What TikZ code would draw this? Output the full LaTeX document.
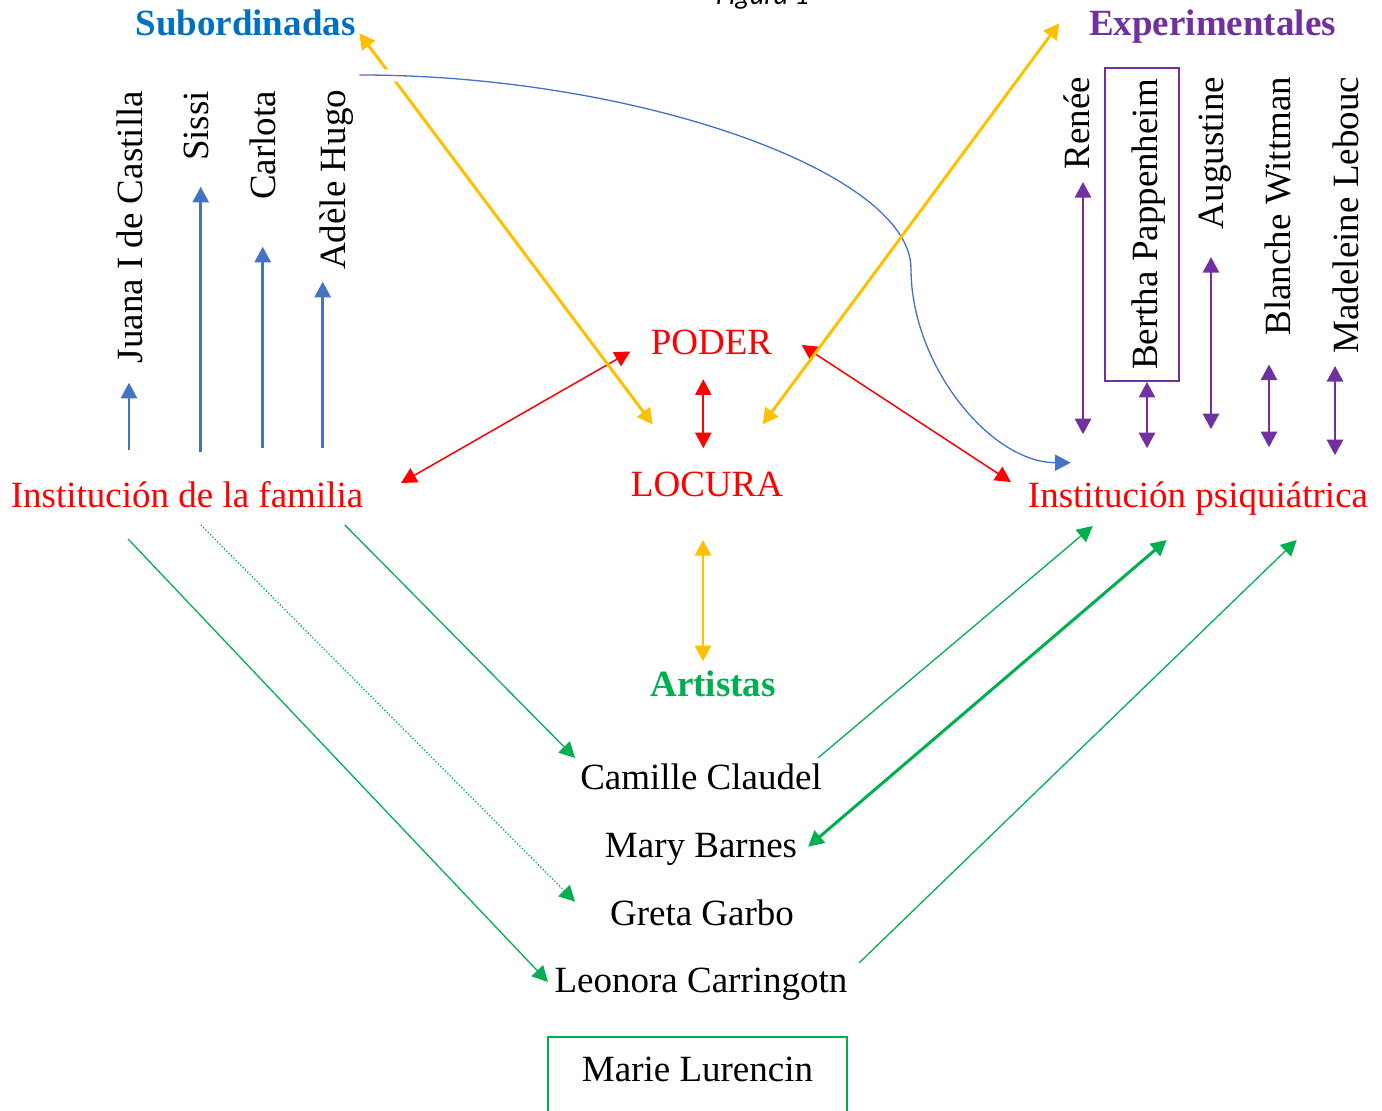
\documentclass[tikz,border=0pt]{standalone}
\usepackage{fontspec}
\setmainfont{Liberation Serif}
\newfontfamily\figfont{Carlito}
\usetikzlibrary{arrows.meta,calc}

\definecolor{azulF}{HTML}{4472C4}
\definecolor{azulT}{HTML}{0070C0}
\definecolor{morado}{HTML}{7030A0}
\definecolor{naranja}{HTML}{FFC000}
\definecolor{verde}{HTML}{00B050}

\tikzset{
  texto/.style={font=\fontsize{18.5}{22}\selectfont, inner sep=0pt, outer sep=0pt, anchor=base},
  titulo/.style={texto, font=\fontsize{18.5}{22}\selectfont\bfseries},
  nombre/.style={texto, rotate=90, anchor=base east},
  fazul/.style={draw=azulF, line width=1.35pt, ->},
  flila/.style={draw=morado, line width=1.35pt, <->},
  froja/.style={draw=red, line width=0.75pt, <->},
  fnaranja/.style={draw=naranja, line width=1.5pt, <->},
  fverde/.style={draw=verde, line width=0.65pt, ->}
}

\begin{document}
\begin{tikzpicture}[x=0.5pt, y=-0.5pt, >={Triangle[width=8pt,length=7.8pt]}]
\useasboundingbox (0,0) rectangle (1382,1111);

\node[texto, font=\figfont\itshape\fontsize{14}{16}\selectfont] (fig) at (762.5,5) {Figura 1};

\node[titulo, text=azulT] (sub) at (245.5,36) {Subordinadas};
\node[titulo, text=morado] (exp) at (1212.5,36) {Experimentales};

\node[nombre] (juana) at (142,91) {Juana I de Castilla};
\node[nombre] (sissi) at (208,91) {Sissi};
\node[nombre] (carlota) at (275,91) {Carlota};
\node[nombre] (adele) at (345,90) {Adèle Hugo};

\node[nombre] (renee) at (1089,77) {Renée};
\node[texto, rotate=90, anchor=center, draw=morado, line width=1pt, text height=19pt, text depth=4pt,
  inner xsep=5.5pt, inner ysep=7pt] (bertha) at (1142,224.5) {Bertha Pappenheim};
\node[nombre] (augustine) at (1223,77) {Augustine};
\node[nombre] (blanche) at (1290,77) {Blanche Wittman};
\node[nombre] (madeleine) at (1358,77) {Madeleine Lebouc};

\node[texto, text=red] (poder) at (711.5,355) {PODER};
\node[texto, text=red] (locura) at (707,497) {LOCURA};
\node[texto, text=red] (fam) at (187,508) {Institución de la familia};
\node[texto, text=red] (psiq) at (1198,508) {Institución psiquiátrica};

\node[titulo, text=verde] (artistas) at (713,697) {Artistas};
\node[texto] (camille) at (701,790) {Camille Claudel};
\node[texto] (mary) at (701,858) {Mary Barnes};
\node[texto] (greta) at (702,926) {Greta Garbo};
\node[texto] (leonora) at (701,993) {Leonora Carringotn};
\node[texto, anchor=north, draw=verde, line width=0.75pt, minimum width=149.5pt, text height=12.65pt,
  text depth=30pt, inner ysep=9.35pt] (marie) at (697.5,1037) {Marie Lurencin};

\draw[fazul] ($(juana.base west |- fam.north)+(-13,-32)$) -- ($(juana.base west)+(-13,19.4)$);
\draw[fazul] ($(sissi.base west |- fam.north)+(-7.3,-30.4)$) -- ($(sissi.base west)+(-7.3,25.8)$);
\draw[fazul] ($(carlota.base west |- fam.north)+(-12.3,-34)$) -- ($(carlota.base west)+(-12.3,46.8)$);
\draw[fazul] ($(adele.base west |- fam.north)+(-22.3,-34)$) -- ($(adele.base west)+(-22.3,11.9)$);

\draw[flila] ($(renee.base west)+(-6,12.5)$) -- ($(renee.base west |- psiq.north)+(-6,-48)$);
\draw[flila] ($(bertha.west)+(5,1)$) -- ($(bertha.west |- psiq.north)+(5,-34)$);
\draw[flila] ($(augustine.base west)+(-12,27.9)$) -- ($(augustine.base west |- psiq.north)+(-12,-53)$);
\draw[flila] ($(blanche.base west)+(-21,29)$) -- ($(blanche.base west |- psiq.north)+(-21,-35)$);
\draw[flila] ($(madeleine.base west)+(-23,12.6)$) -- ($(madeleine.base west |- psiq.north)+(-23,-27)$);

\draw[froja] ($(fam.base east)+(37.75,-25)$) -- ($(poder.base west)+(-20.4,-3.5)$);
\draw[froja] ($(poder.base east)+(29.6,-10)$) -- ($(psiq.base west)+(-17,-26)$);
\draw[froja, line width=1pt] ($(poder.base)+(-8.2,24.3)$) -- ($(locura.north)+(-3.7,-24.2)$);

\draw[fnaranja] ($(sub.base east)+(3.8,-2.7)$) -- ($(locura.north)+(-54.3,-48.2)$);
\coordinate (giro) at (911,268.8);
\draw[draw=azulF, line width=0.65pt, ->, preaction={draw=white, line width=6pt, -}]
  ($(sub.base east)+(3.8,39)$) .. controls +(275.9,0) and +(0,-96.9) .. (giro)
  .. controls +(0,96.9) and +(-79.8,0) .. ($(psiq.base west)+(42.8,-45.3)$);
\draw[fnaranja] ($(exp.base west)+(-29.9,-12.7)$) -- ($(locura.north)+(55.7,-48.2)$);
\draw[fnaranja, line width=1.2pt] ($(locura.base)+(-4,43)$) -- ($(artistas.north)+(-10,-10)$);

\draw[fverde] ($(fam.base west)+(117.3,31)$) -- ($(leonora.base west)+(-6.6,-11)$);
\draw[fverde, densely dotted] ($(fam.base west)+(190,17)$) -- ($(greta.base west)+(-35,-24.3)$);
\draw[fverde] ($(fam.base east)+(-18.3,17)$) -- ($(camille.base west)+(-5.2,-32)$);
\draw[fverde] ($(camille.base east)+(-3.8,-32)$) -- ($(psiq.base west)+(64.8,18)$);
\draw[fverde, line width=1.5pt, <->] ($(mary.base east)+(11,-11.3)$) -- ($(psiq.base)+(-31.3,32)$);
\draw[fverde] ($(leonora.base east)+(11.6,-30)$) -- ($(psiq.base)+(98.7,32)$);
\end{tikzpicture}
\end{document}
